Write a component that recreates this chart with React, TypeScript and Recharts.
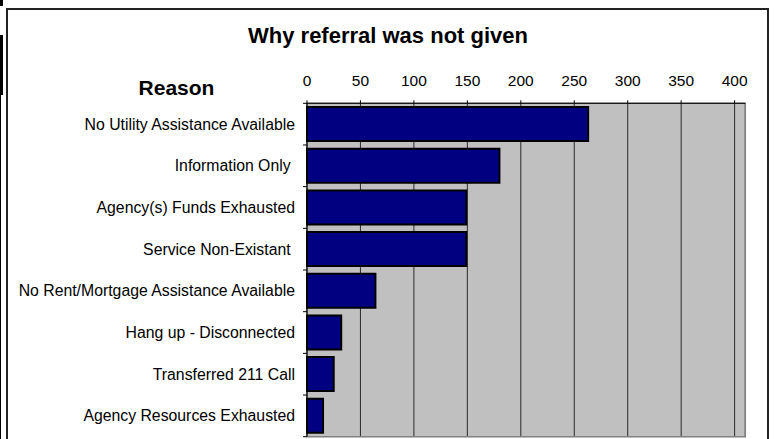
import React from "react";
import {
  BarChart,
  Bar,
  XAxis,
  YAxis,
  CartesianGrid,
  ReferenceArea,
} from "recharts";

const reasons = [
  "No Utility Assistance Available",
  "Information Only ",
  "Agency(s) Funds Exhausted",
  "Service Non-Existant ",
  "No Rent/Mortgage Assistance Available",
  "Hang up - Disconnected",
  "Transferred 211 Call",
  "Agency Resources Exhausted",
];
const counts = [263, 180, 149, 149, 64, 32, 25, 15];
const xTicks = [0, 50, 100, 150, 200, 250, 300, 350, 400];

const data = reasons.map((reason, i) => ({ reason, count: counts[i] }));

const FONT = "'Liberation Sans', Arial, sans-serif";
const PLOT_TOP = 103.3;
const PLOT_BOTTOM = 436.7;
const band = (PLOT_BOTTOM - PLOT_TOP) / reasons.length;

const ReasonTick = ({ x, y, payload, index }: any) => (
  <g>
    <line x1={x + 8} x2={x + 12} y1={y - band / 2} y2={y - band / 2} stroke="#000" />
    {index === reasons.length - 1 && (
      <line x1={x + 8} x2={x + 12} y1={y + band / 2} y2={y + band / 2} stroke="#000" />
    )}
    <text
      x={x}
      y={y}
      dy={5.5}
      textAnchor="end"
      fill="#000"
      fontSize={15.8}
      fontFamily={FONT}
      style={{ whiteSpace: "pre" }}
    >
      {payload.value}
    </text>
  </g>
);

const App: React.FC = () => {
  return (
    <div
      style={{
        position: "absolute",
        left: 0,
        top: 0,
        width: 774,
        height: 439,
        overflow: "hidden",
        background: "#fff",
        fontFamily: FONT,
      }}
    >
      {/* cropped edges */}
      <div style={{ position: "absolute", left: 0, top: 0, width: 3, height: 6, background: "#000" }} />
      <div style={{ position: "absolute", left: 0, top: 35, width: 3, height: 60, background: "#000" }} />
      <div style={{ position: "absolute", left: 0, top: 95, width: 1, height: 344, background: "#000" }} />
      <div
        style={{
          position: "absolute",
          left: 6,
          top: 8,
          width: 763,
          height: 460,
          border: "2px solid #222",
          boxSizing: "border-box",
        }}
      />
      <div
        style={{
          position: "absolute",
          left: 0,
          width: 774,
          top: 24.5,
          textAlign: "center",
          fontSize: 22,
          lineHeight: "22px",
          fontWeight: "bold",
          paddingLeft: 0,
        }}
      >
        <span style={{ position: "relative", left: 1 }}>Why referral was not given</span>
      </div>
      <div
        style={{
          position: "absolute",
          left: 76.5,
          width: 200,
          top: 77.2,
          textAlign: "center",
          fontSize: 21,
          lineHeight: "21px",
          fontWeight: "bold",
        }}
      >
        Reason
      </div>
      <div style={{ position: "absolute", left: 0, top: 0 }}>
        <BarChart
          width={774}
          height={439}
          data={data}
          layout="vertical"
          barCategoryGap="9%"
          margin={{ top: PLOT_TOP - 30, right: 28.7, bottom: 439 - PLOT_BOTTOM, left: 0 }}
        >
          <CartesianGrid horizontal={false} fill="#c0c0c0" stroke="#2a2a2a" />
          <ReferenceArea x1={0} x2={410} fill="none" stroke="#808080" strokeWidth={1.5} />
          <XAxis
            type="number"
            orientation="top"
            domain={[0, 410]}
            ticks={xTicks}
            interval={0}
            height={30}
            tickSize={3}
            tickMargin={14}
            axisLine={{ stroke: "#000" }}
            tickLine={{ stroke: "#000" }}
            tick={{ fill: "#000", fontSize: 15.5, fontFamily: FONT }}
          />
          <YAxis
            type="category"
            dataKey="reason"
            width={307}
            tickSize={4}
            tickMargin={8}
            tickLine={false}
            axisLine={{ stroke: "#000" }}
            interval={0}
            tick={(p: any) => <ReasonTick {...p} />}
          />
          <Bar
            dataKey="count"
            fill="#000080"
            stroke="#000"
            strokeWidth={2}
            isAnimationActive={false}
          />
        </BarChart>
      </div>
    </div>
  );
};

export default App;
